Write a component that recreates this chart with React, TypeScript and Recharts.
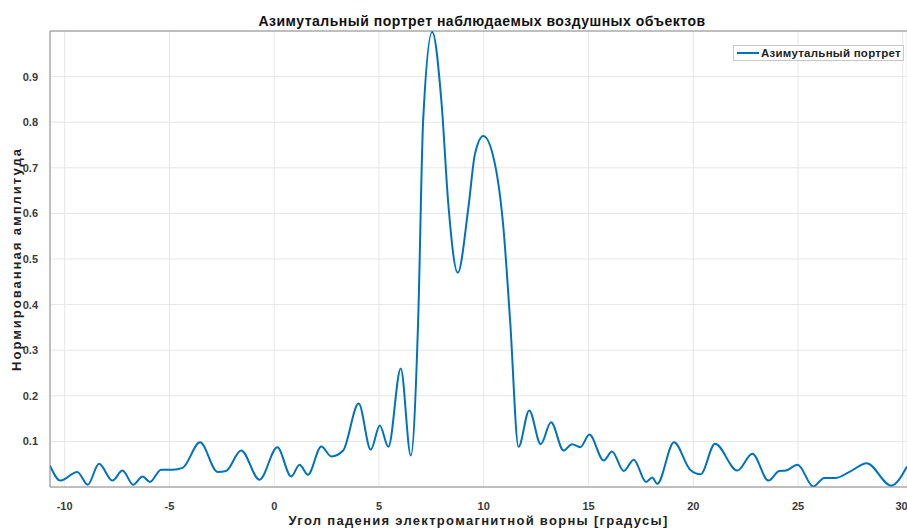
import {
  LineChart,
  Line,
  XAxis,
  YAxis,
  CartesianGrid,
  Legend,
  ReferenceLine,
} from "recharts";

const chartTitle = "Азимутальный портрет наблюдаемых воздушных объектов";
const xTitle = "Угол падения электромагнитной ворны [градусы]";
const yTitle = "Нормированная амплитуда";
const seriesName = "Азимутальный портрет";

// angle of incidence, degrees
const angles = [
  -10.7, -10.2, -9.4, -8.9, -8.36, -7.72, -7.24, -6.73, -6.28, -5.93, -5.4,
  -4.85, -4.37, -3.54, -2.7, -2.3, -1.58, -0.7, 0.15, 0.81, 1.21, 1.61, 2.25,
  2.73, 3.29, 4.03, 4.61, 5.04, 5.45, 6.04, 6.52, 6.87, 7.11, 7.54, 7.99, 8.31,
  8.76, 9.27, 9.58, 9.98, 10.54, 10.94, 11.26, 11.66, 12.17, 12.72, 13.21,
  13.81, 14.21, 14.61, 15.04, 15.73, 16.12, 16.68, 17.16, 17.75, 18.04, 18.28,
  19.08, 19.85, 20.35, 21.04, 22.1, 22.82, 23.59, 24.1, 24.42, 24.98, 25.73,
  26.25, 26.8, 27.45, 28.28, 29.44, 30.2,
];

// normalised amplitude
const amplitudes = [
  0.047, 0.014, 0.033, 0.005, 0.051, 0.014, 0.036, 0.005, 0.023, 0.011, 0.038,
  0.038, 0.042, 0.098, 0.033, 0.035, 0.08, 0.016, 0.087, 0.023, 0.049, 0.027,
  0.089, 0.067, 0.08, 0.183, 0.082, 0.135, 0.088, 0.26, 0.069, 0.365, 0.805,
  0.998, 0.84, 0.62, 0.47, 0.614, 0.73, 0.77, 0.707, 0.568, 0.364, 0.088,
  0.168, 0.094, 0.142, 0.08, 0.094, 0.087, 0.115, 0.058, 0.078, 0.035, 0.06,
  0.011, 0.021, 0.007, 0.098, 0.038, 0.028, 0.095, 0.036, 0.073, 0.014, 0.035,
  0.036, 0.049, 0.001, 0.02, 0.02, 0.033, 0.052, 0.003, 0.045,
];

const xTicks = [-10, -5, 0, 5, 10, 15, 20, 25, 30];
const yTicks = [0.1, 0.2, 0.3, 0.4, 0.5, 0.6, 0.7, 0.8, 0.9];

const data = angles.map((a, i) => ({ angle: a, amp: amplitudes[i] }));

const font = "'Liberation Sans', Arial, sans-serif";
const tickStyle = { fontSize: 11, fontWeight: 700, fill: "#3a3a3a", fontFamily: font };

const LegendBox = () => (
  <div
    style={{
      display: "inline-flex",
      alignItems: "center",
      border: "1px solid #c8c8c8",
      background: "#fff",
      height: 14,
      padding: "0 2px 0 3px",
      whiteSpace: "nowrap",
      fontFamily: font,
      fontSize: 11.5,
      letterSpacing: 0.25,
      fontWeight: 700,
      color: "#222",
    }}
  >
    <span style={{ display: "inline-block", width: 22, height: 2, background: "#0072BD", marginRight: 2 }} />
    {seriesName}
  </div>
);

export default function App() {
  return (
    <div
      style={{
        position: "absolute",
        left: 0,
        top: 0,
        width: 907,
        height: 528,
        overflow: "hidden",
        background: "#fff",
      }}
    >
      <div
        style={{
          position: "absolute",
          left: 0,
          width: 964,
          top: 13,
          textAlign: "center",
          fontFamily: font,
          fontSize: 14,
          letterSpacing: 0.5,
          fontWeight: 700,
          color: "#111",
          zIndex: 2,
        }}
      >
        {chartTitle}
      </div>
      <LineChart
        width={907}
        height={528}
        data={data}
        margin={{ top: 31, right: 0, left: 0, bottom: 0 }}
      >
        <CartesianGrid stroke="#e6e6e6" vertical horizontal />
        <XAxis
          dataKey="angle"
          type="number"
          domain={[-10.7, 30.2]}
          ticks={xTicks}
          allowDataOverflow
          height={41}
          tickLine={false}
          tickMargin={9}
          stroke="#8a8a8a"
          tick={tickStyle}
          label={{
            value: xTitle,
            position: "insideBottom",
            offset: 3,
            style: { fontSize: 13, letterSpacing: 1.3, fontWeight: 700, fill: "#222", fontFamily: font },
          }}
        />
        <YAxis
          type="number"
          domain={[0, 1]}
          ticks={yTicks}
          allowDataOverflow
          width={50}
          tickLine={false}
          tickMargin={6}
          stroke="#8a8a8a"
          tick={tickStyle}
          label={{
            value: yTitle,
            angle: -90,
            position: "insideLeft",
            offset: 16,
            textAnchor: "middle",
            style: { fontSize: 13, letterSpacing: 2, fontWeight: 700, fill: "#222", fontFamily: font, textAnchor: "middle" },
          }}
        />
        <ReferenceLine y={1} stroke="#8a8a8a" ifOverflow="extendDomain" />
        <Legend
          layout="horizontal"
          verticalAlign="middle"
          align="center"
          content={() => <LegendBox />}
          wrapperStyle={{ position: "absolute", top: 40, left: 733, width: 174 }}
        />
        <Line
          type="monotone"
          dataKey="amp"
          name={seriesName}
          stroke="#0072BD"
          strokeWidth={2}
          dot={false}
          isAnimationActive={false}
        />
      </LineChart>
    </div>
  );
}
